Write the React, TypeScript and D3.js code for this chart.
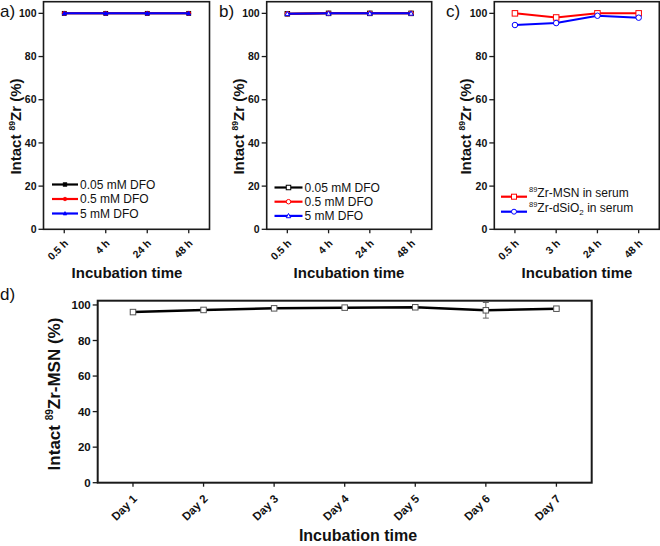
import React from "react";
import * as d3 from "d3";

const FONT = "'Liberation Sans', Arial, Helvetica, sans-serif";

// categories
const timesAB = ["0.5 h", "4 h", "24 h", "48 h"];
const timesC = ["0.5 h", "3 h", "24 h", "48 h"];
const days = ["Day 1", "Day 2", "Day 3", "Day 4", "Day 5", "Day 6", "Day 7"];
const yTicks = [0, 20, 40, 60, 80, 100];

// panel a (filled markers)
const a005 = [100, 100, 100, 100];
const a05 = [100, 100, 100, 100];
const a5 = [100, 100, 100, 100];
// panel b (open markers)
const b005 = [99.8, 100, 100, 100];
const b05 = [99.8, 100, 100, 100];
const b5 = [99.8, 100, 100, 100];
// panel c
const msnSerum = [100, 98.1, 100, 100];
const dsio2Serum = [94.6, 95.5, 98.9, 98.0];
// panel d
const msnDays = [96.0, 97.2, 98.1, 98.5, 98.7, 97.0, 97.9];
const msnDaysErr = [0.4, 0.4, 0.3, 0.3, 0.3, 4.4, 0.4];

type Shape = "square" | "circle" | "triangle";

function Marker({ shape, x, y, size, color, open }: { shape: Shape; x: number; y: number; size: number; color: string; open: boolean }) {
  const fill = open ? "#fff" : color;
  const sw = open ? 1 : 0.8;
  if (shape === "square") {
    return <rect x={x - size / 2} y={y - size / 2} width={size} height={size} fill={fill} stroke={color} strokeWidth={sw} />;
  }
  if (shape === "circle") {
    return <circle cx={x} cy={y} r={size / 2} fill={fill} stroke={color} strokeWidth={sw} />;
  }
  const h = size * 0.9;
  const pts = `${x},${y - h * 0.6} ${x - size / 2},${y + h * 0.45} ${x + size / 2},${y + h * 0.45}`;
  return <polygon points={pts} fill={fill} stroke={color} strokeWidth={sw} />;
}

type Series = { name: React.ReactNode; values: number[]; color: string; shape: Shape; open: boolean; err?: number[] };

type PanelProps = {
  label: string;
  labelX: number;
  labelY: number;
  cats: string[];
  x0: number;
  x1: number;
  yTop: number;
  yBot: number;
  yMax: number;
  series: Series[];
  tickFont: number;
  catFont: number;
  catOff: [number, number];
  yTitle: React.ReactNode;
  yTitleX: number;
  yTitleY: number;
  yTitleFont: number;
  xTitleX: number;
  xTitleY: number;
  xTitleFont: number;
  lineWidth: number;
  markerSize: number;
  frameWidth: number;
  legend?: { x: number; y: number; dy: number; font: number; lineLen: number; markerSize: number };
};

function Panel(p: PanelProps) {
  const x = d3.scalePoint<string>().domain(p.cats).range([p.x0, p.x1]).padding(0.5);
  const y = d3.scaleLinear().domain([0, p.yMax]).range([p.yBot, p.yTop]);
  const line = d3
    .line<number>()
    .x((_, i) => x(p.cats[i]) as number)
    .y((d) => y(d));
  return (
    <g>
      <text x={p.labelX} y={p.labelY} fontSize={17} fontFamily={FONT} fill="#111">
        {p.label}
      </text>
      {p.series.map((s, si) => (
        <g key={si}>
          <path d={line(s.values) || ""} fill="none" stroke={s.color} strokeWidth={p.lineWidth} />
          {s.err &&
            s.values.map((v, i) => {
              const cx = x(p.cats[i]) as number;
              const e = s.err![i];
              return (
                <g key={"e" + i} stroke="#666" strokeWidth={1}>
                  <line x1={cx} x2={cx} y1={y(v - e)} y2={y(v + e)} />
                  <line x1={cx - 3} x2={cx + 3} y1={y(v - e)} y2={y(v - e)} />
                  <line x1={cx - 3} x2={cx + 3} y1={y(v + e)} y2={y(v + e)} />
                </g>
              );
            })}
          {s.values.map((v, i) => (
            <Marker key={i} shape={s.shape} x={x(p.cats[i]) as number} y={y(v)} size={p.markerSize} color={s.err ? "#555" : s.color} open={s.open} />
          ))}
        </g>
      ))}
      <rect x={p.x0} y={p.yTop} width={p.x1 - p.x0} height={p.yBot - p.yTop} fill="none" stroke="#1a1a1a" strokeWidth={p.frameWidth} />
      {yTicks.map((t) => (
        <g key={t}>
          <line x1={p.x0 - 5} x2={p.x0} y1={y(t)} y2={y(t)} stroke="#1a1a1a" strokeWidth={1.3} />
          <text x={p.x0 - 7} y={y(t)} dy="0.35em" textAnchor="end" fontSize={p.tickFont} fontWeight="bold" fontFamily={FONT} fill="#111">
            {t}
          </text>
        </g>
      ))}
      {p.cats.map((c) => {
        const cx = x(c) as number;
        return (
          <g key={c}>
            <line x1={cx} x2={cx} y1={p.yBot} y2={p.yBot + 4} stroke="#1a1a1a" strokeWidth={1.3} />
            <text
              transform={`translate(${cx + p.catOff[0]},${p.yBot + p.catOff[1]}) rotate(-45)`}
              textAnchor="end"
              dy="0.35em"
              fontSize={p.catFont}
              fontWeight="bold"
              fontFamily={FONT}
              fill="#111"
            >
              {c}
            </text>
          </g>
        );
      })}
      <text transform={`translate(${p.yTitleX},${p.yTitleY}) rotate(-90)`} textAnchor="middle" fontSize={p.yTitleFont} fontWeight="bold" fontFamily={FONT} fill="#111">
        {p.yTitle}
      </text>
      <text x={p.xTitleX} y={p.xTitleY} textAnchor="middle" fontSize={p.xTitleFont} fontWeight="bold" fontFamily={FONT} fill="#111">
        Incubation time
      </text>
      {p.legend &&
        p.series.map((s, si) => {
          const L = p.legend!;
          const ly = L.y + si * L.dy;
          return (
            <g key={"l" + si}>
              <line x1={L.x} x2={L.x + L.lineLen} y1={ly} y2={ly} stroke={s.color} strokeWidth={2.2} />
              <Marker shape={s.shape} x={L.x + L.lineLen / 2} y={ly} size={L.markerSize} color={s.color} open={s.open} />
              <text x={L.x + L.lineLen + 2} y={ly} dy="0.35em" fontSize={L.font} fontFamily={FONT} fill="#111">
                {s.name}
              </text>
            </g>
          );
        })}
    </g>
  );
}

function yTitleSmall() {
  return (
    <>
      <tspan>Intact </tspan>
      <tspan fontSize={8.5} dy={-6}>
        89
      </tspan>
      <tspan dy={6}>Zr (%)</tspan>
    </>
  );
}

export default function App() {
  const topCommon = {
    yTop: 1.7,
    yBot: 229.3,
    yMax: 105.4,
    tickFont: 10.5,
    catFont: 10.5,
    catOff: [2, 12] as [number, number],
    yTitleFont: 15,
    xTitleFont: 15,
    xTitleY: 278,
    lineWidth: 2,
    frameWidth: 1.6,
    yTitleY: 126.5,
  };
  return (
    <svg width={660} height={546} style={{ position: "absolute", left: 0, top: 0, background: "#fff" }}>
      <rect width={660} height={546} fill="#fff" />
      <Panel
        {...topCommon}
        label="a)"
        labelX={0}
        labelY={17}
        cats={timesAB}
        x0={43.5}
        x1={209.5}
        yTitle={yTitleSmall()}
        yTitleX={21}
        xTitleX={127}
        markerSize={4}
        series={[
          { name: "0.05 mM DFO", values: a005, color: "#000000", shape: "square", open: false },
          { name: "0.5 mM DFO", values: a05, color: "#ff0000", shape: "circle", open: false },
          { name: "5 mM DFO", values: a5, color: "#0000ff", shape: "triangle", open: false },
        ]}
        legend={{ x: 52, y: 184.5, dy: 14.5, font: 12, lineLen: 26, markerSize: 3.5 }}
      />
      <Panel
        {...topCommon}
        label="b)"
        labelX={219}
        labelY={17}
        cats={timesAB}
        x0={266.7}
        x1={431.7}
        yTitle={yTitleSmall()}
        yTitleX={244}
        xTitleX={349}
        markerSize={4.5}
        series={[
          { name: "0.05 mM DFO", values: b005, color: "#000000", shape: "square", open: true },
          { name: "0.5 mM DFO", values: b05, color: "#ff0000", shape: "circle", open: true },
          { name: "5 mM DFO", values: b5, color: "#0000ff", shape: "triangle", open: true },
        ]}
        legend={{ x: 274.5, y: 187.5, dy: 14.2, font: 12, lineLen: 28, markerSize: 4.5 }}
      />
      <Panel
        {...topCommon}
        label="c)"
        labelX={446}
        labelY={17}
        cats={timesC}
        x0={494.3}
        x1={659.3}
        yTitle={yTitleSmall()}
        yTitleX={471}
        xTitleX={577}
        markerSize={5.5}
        series={[
          {
            name: (
              <>
                <tspan fontSize={7.5} dy={-5}>
                  89
                </tspan>
                <tspan dy={5}>Zr-MSN in serum</tspan>
              </>
            ),
            values: msnSerum,
            color: "#ff0000",
            shape: "square",
            open: true,
          },
          {
            name: (
              <>
                <tspan fontSize={7.5} dy={-5}>
                  89
                </tspan>
                <tspan dy={5}>Zr-dSiO</tspan>
                <tspan fontSize={8} dy={3}>
                  2
                </tspan>
                <tspan dy={-3}> in serum</tspan>
              </>
            ),
            values: dsio2Serum,
            color: "#0000ff",
            shape: "circle",
            open: true,
          },
        ]}
        legend={{ x: 501, y: 196.7, dy: 15, font: 12, lineLen: 26, markerSize: 5 }}
      />
      <Panel
        label="d)"
        labelX={0}
        labelY={300}
        cats={days}
        x0={97.7}
        x1={591.7}
        yTop={300.7}
        yBot={482.7}
        yMax={102.4}
        tickFont={11.5}
        catFont={11.5}
        catOff={[2, 14]}
        yTitle={
          <>
            <tspan>Intact </tspan>
            <tspan fontSize={10} dy={-7}>
              89
            </tspan>
            <tspan dy={7}>Zr-MSN (%)</tspan>
          </>
        }
        yTitleX={60}
        yTitleY={394}
        yTitleFont={17}
        xTitleX={358}
        xTitleY={541}
        xTitleFont={16}
        lineWidth={2.5}
        markerSize={5.5}
        frameWidth={2}
        series={[{ name: "", values: msnDays, color: "#000000", shape: "square", open: true, err: msnDaysErr }]}
      />
    </svg>
  );
}
